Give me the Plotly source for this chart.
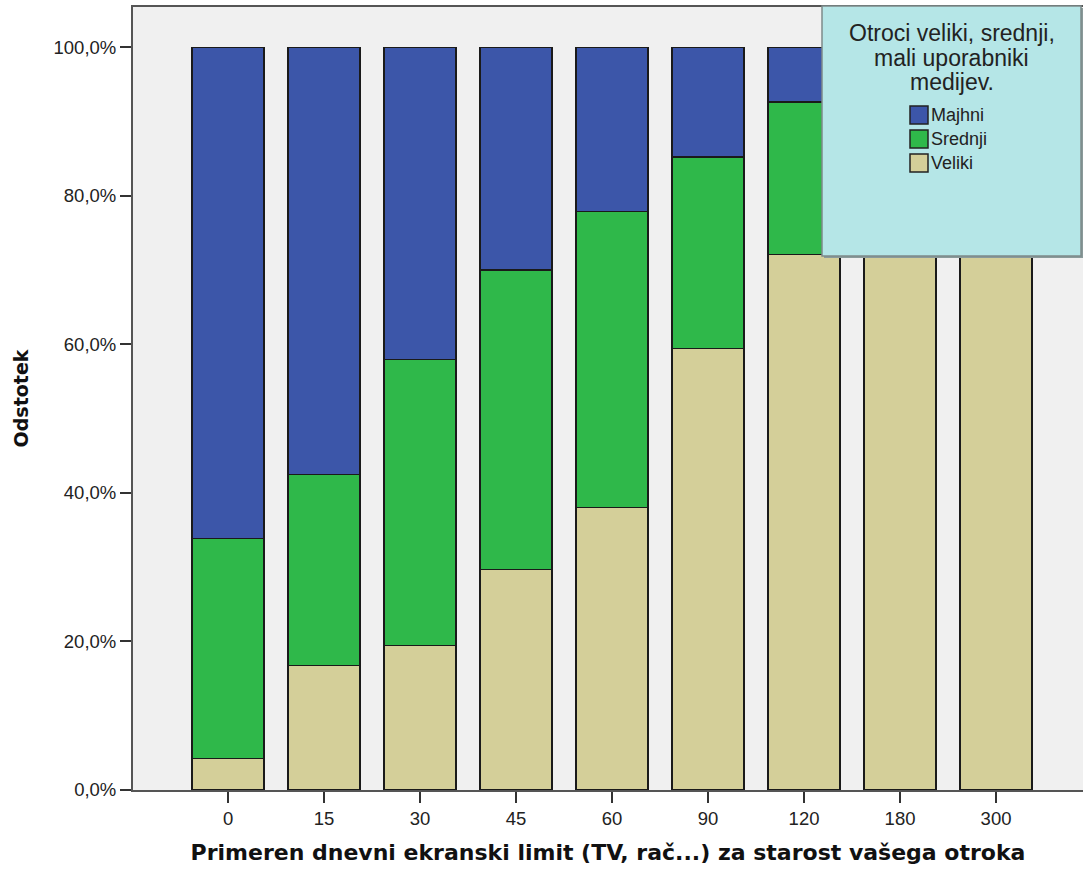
import plotly.graph_objects as go

categories = ["0", "15", "30", "45", "60", "90", "120", "180", "300"]
veliki = [4.2, 16.8, 19.4, 29.7, 38.0, 59.4, 72.1, 79.0, 86.0]
srednji = [29.7, 25.7, 38.6, 40.3, 39.9, 25.8, 20.5, 17.0, 11.0]
majhni = [66.1, 57.5, 42.0, 30.0, 22.1, 14.8, 7.4, 4.0, 3.0]
y_ticks = [0, 20, 40, 60, 80, 100]
y_ticktext = ["0,0%", "20,0%", "40,0%", "60,0%", "80,0%", "100,0%"]

series = [
    ("Veliki", veliki, "#d4cf99"),
    ("Srednji", srednji, "#2fb84a"),
    ("Majhni", majhni, "#3c56a9"),
]

W, H = 1083, 872
L, T, R, B = 133, 7, 0, 82
pw, ph = W - L - R, H - T - B


def px(x):
    # page pixel x -> paper x
    return (x - L) / pw


def py(y):
    # page pixel y -> paper y
    return (H - B - y) / ph


fig = go.Figure()
for name, vals, color in series:
    fig.add_trace(
        go.Bar(
            x=categories,
            y=vals,
            name=name,
            width=0.75,
            marker=dict(color=color, line=dict(color="#1a1a1a", width=1.2)),
            showlegend=False,
        )
    )

tick_font = dict(family="Liberation Sans, Arial, sans-serif", size=18.5, color="#222")
bold_font = "DejaVu Sans, Verdana, sans-serif"

fig.update_layout(
    barmode="stack",
    width=W,
    height=H,
    margin=dict(l=L, r=R, t=T, b=B),
    paper_bgcolor="white",
    plot_bgcolor="#f0f0f0",
    xaxis=dict(
        type="category",
        range=[-0.99, 8.906],
        showgrid=False,
        showline=True,
        linecolor="#555",
        linewidth=2,
        mirror=True,
        ticks="outside",
        ticklen=11,
        tickwidth=2,
        tickcolor="#333",
        tickfont=tick_font,
        title=dict(
            text="<b>Primeren dnevni ekranski limit (TV, rač...) za starost vašega otroka</b>",
            font=dict(family=bold_font, size=22, color="#111"),
            standoff=16,
        ),
    ),
    yaxis=dict(
        range=[0, 105.4],
        tickvals=y_ticks,
        ticktext=y_ticktext,
        showgrid=False,
        zeroline=False,
        showline=True,
        linecolor="#555",
        linewidth=2,
        ticks="outside",
        ticklen=11,
        tickwidth=2,
        tickcolor="#333",
        tickfont=tick_font,
        title=dict(text="<b>Odstotek</b>", font=dict(family=bold_font, size=19, color="#111"), standoff=20),
    ),
)

# legend panel
bx0, bx1, by0, by1 = 822, 1081, 6, 256
fig.add_shape(type="rect", xref="paper", yref="paper",
              x0=px(bx0 + 2), x1=px(bx1 + 2), y0=py(by1 + 2), y1=py(by0 + 2),
              fillcolor="#8a9a9a", line=dict(width=0), layer="above")
fig.add_shape(type="rect", xref="paper", yref="paper",
              x0=px(bx0), x1=px(bx1), y0=py(by1), y1=py(by0),
              fillcolor="#b5e6e7", line=dict(color="#7d8b8b", width=1.5), layer="above")

title_lines = ["Otroci veliki, srednji,", "mali uporabniki", "medijev."]
for i, line in enumerate(title_lines):
    fig.add_annotation(
        xref="paper", yref="paper", x=px((bx0 + bx1) / 2), y=py(33 + 24.5 * i),
        text=line, showarrow=False, xanchor="center", yanchor="middle",
        font=dict(family="Liberation Sans, Arial, sans-serif", size=23, color="#222"),
    )

legend_items = [("Majhni", "#3c56a9"), ("Srednji", "#2fb84a"), ("Veliki", "#d4cf99")]
for i, (name, color) in enumerate(legend_items):
    cy = 115 + 24 * i
    fig.add_shape(type="rect", xref="paper", yref="paper",
                  x0=px(910), x1=px(928), y0=py(cy + 9), y1=py(cy - 9),
                  fillcolor=color, line=dict(color="#222", width=1.5), layer="above")
    fig.add_annotation(
        xref="paper", yref="paper", x=px(929), y=py(cy),
        text=name, showarrow=False, xanchor="left", yanchor="middle",
        font=dict(family="Liberation Sans, Arial, sans-serif", size=18, color="#222"),
    )

# drop the default page margin so the figure fills the window exactly
fig.write_html(
    "out.html",
    config={"displayModeBar": False},
    post_script="document.body.style.margin='0';document.body.style.overflow='hidden';",
)
